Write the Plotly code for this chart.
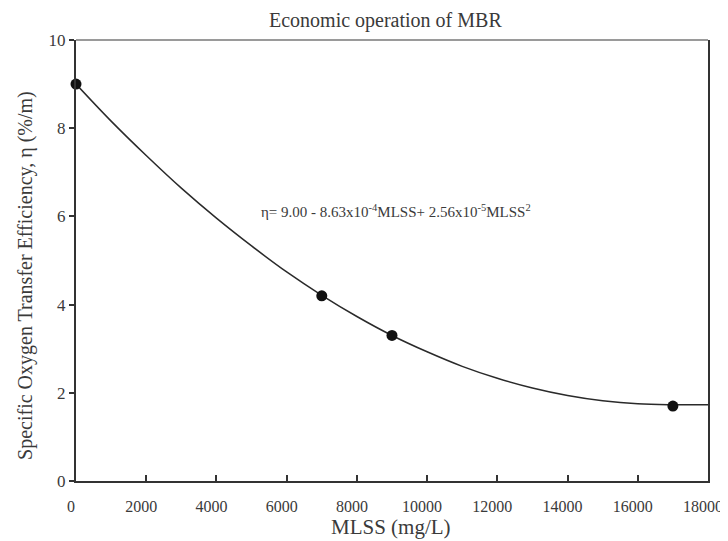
import plotly.graph_objects as go

# Measured points
mlss_pts = [0, 7000, 9000, 17000]
eta_pts = [9.0, 4.2, 3.3, 1.7]

# Fitted curve values
mlss_fit = [0, 1000, 2000, 3000, 4000, 5000, 6000, 7000, 8000, 9000,
            10000, 11000, 12000, 13000, 14000, 15000, 16000, 17000, 18000]
eta_fit = [9.00, 8.16, 7.38, 6.64, 5.96, 5.33, 4.74, 4.21, 3.73, 3.30,
           2.93, 2.60, 2.33, 2.11, 1.94, 1.82, 1.75, 1.73, 1.73]

x_ticks = [0, 2000, 4000, 6000, 8000, 10000, 12000, 14000, 16000, 18000]
y_ticks = [0, 2, 4, 6, 8, 10]

title_text = "Economic operation of MBR"
x_title = "MLSS (mg/L)"
y_title = "Specific Oxygen Transfer Efficiency, η (%/m)"
equation = "η= 9.00 - 8.63x10<sup>-4</sup>MLSS+ 2.56x10<sup>-5</sup>MLSS<sup>2</sup>"

FONT = "Liberation Serif, Times New Roman, serif"
TXT = "#3a3a3a"

fig = go.Figure()
fig.add_trace(go.Scatter(x=mlss_fit, y=eta_fit, mode="lines",
                         line=dict(color="#2a2a2a", width=1.5, shape="spline"),
                         showlegend=False, hoverinfo="skip"))
fig.add_trace(go.Scatter(x=mlss_pts, y=eta_pts, mode="markers",
                         marker=dict(color="#111111", size=11),
                         showlegend=False, cliponaxis=False))

# equation
fig.add_annotation(x=0.507, y=0.612, xref="paper", yref="paper",
                   text=equation, showarrow=False,
                   font=dict(family=FONT, size=15, color=TXT))
# chart title
fig.add_annotation(x=0.489, y=1.0 + 20 / 441, xref="paper", yref="paper",
                   text=title_text, showarrow=False, yanchor="middle",
                   font=dict(family=FONT, size=20, color=TXT))
# x title
fig.add_annotation(x=0.499, y=-46 / 441, xref="paper", yref="paper",
                   text=x_title, showarrow=False, yanchor="middle",
                   font=dict(family=FONT, size=21, color=TXT))
# y title
fig.add_annotation(x=-50 / 632, y=0.465, xref="paper", yref="paper",
                   text=y_title, showarrow=False, textangle=-90,
                   xanchor="center", yanchor="middle",
                   font=dict(family=FONT, size=20, color=TXT))

# grey top frame line
fig.add_shape(type="line", xref="paper", yref="paper", x0=0, x1=1, y0=1, y1=1,
              line=dict(color="#9a9a9a", width=2))

fig.update_layout(
    width=728, height=533,
    margin=dict(l=68, r=28, t=32, b=60),
    paper_bgcolor="white", plot_bgcolor="white",
    font=dict(family=FONT, size=16, color=TXT),
    xaxis=dict(range=[0, 18000], tickvals=x_ticks, ticktext=[str(v) for v in x_ticks],
               ticks="inside", ticklen=6, tickwidth=1.5, tickcolor="#333",
               showline=True, linecolor="#333", linewidth=2, mirror=False,
               showgrid=False, zeroline=False, ticklabelstandoff=10, ticklabelshift=-5,
               automargin=False, ticklabeloverflow="allow",
               tickfont=dict(family=FONT, size=16, color=TXT)),
    yaxis=dict(range=[0, 10], tickvals=y_ticks,
               ticks="outside", ticklen=5, tickwidth=1.5, tickcolor="#333",
               showline=True, linecolor="#333", linewidth=2, mirror=True,
               showgrid=False, zeroline=False, automargin=False,
               tickfont=dict(family=FONT, size=17, color=TXT)),
)

fig.write_html("out.html")
